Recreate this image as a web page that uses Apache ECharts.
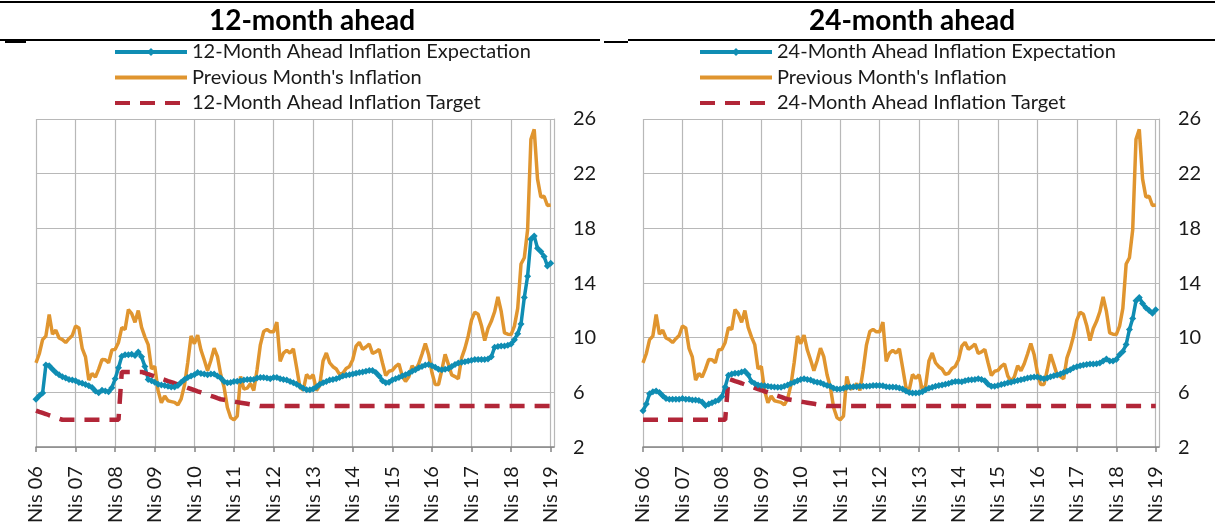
<!DOCTYPE html>
<html>
<head>
<meta charset="utf-8">
<title>Inflation expectations</title>
<script src="https://cdn.jsdelivr.net/npm/echarts@6/dist/echarts.min.js"></script>
<style>
html, body { margin: 0; padding: 0; background: #fff; }
#chart { width: 1215px; height: 526px; }
</style>
</head>
<body>
<div id="chart"></div>
<script>
// ay isimleri (kategori etiketleri)
var monthNames = ['Oca', 'Şub', 'Mar', 'Nis', 'May', 'Haz', 'Tem', 'Ağu', 'Eyl', 'Eki', 'Kas', 'Ara'];

// Nis 06 .. May 19 (last month left empty, like the source axis)
var categories = [];
for (var i = 0; i < 158; i++) {
    var m = (3 + i) % 12;
    var y = 6 + Math.floor((3 + i) / 12);
    categories.push(monthNames[m] + ' ' + (y < 10 ? '0' + y : y));
}

// previous month's annual CPI inflation (Nis 06 .. Nis 19)
var prevInflation = [
    8.16, 8.83, 9.86, 10.12, 11.69, 10.26, 10.55, 9.98, 9.86, 9.65,
    9.93, 10.16, 10.86, 10.72, 9.23, 8.60, 6.90, 7.39, 7.12, 7.70, 8.40, 8.39,
    8.17, 9.10, 9.15, 9.66, 10.74, 10.61, 12.06, 11.77, 11.13, 11.99, 10.76, 10.06,
    9.50, 7.73, 7.89, 6.13, 5.24, 5.73, 5.39, 5.33, 5.27, 5.08, 5.53, 6.53,
    8.19, 10.13, 9.56, 10.19, 9.10, 8.37, 7.58, 8.33, 9.24, 8.62, 7.29, 6.40,
    4.90, 4.16, 3.99, 4.26, 7.17, 6.24, 6.31, 6.65, 6.15, 7.66, 9.48, 10.45,
    10.61, 10.43, 10.43, 11.14, 8.28, 8.87, 9.07, 8.88, 9.19, 7.80, 6.37, 6.16,
    7.31, 7.03, 7.29, 6.13, 6.51, 8.30, 8.88, 8.17, 7.88, 7.71, 7.32, 7.40,
    7.75, 7.89, 8.39, 9.38, 9.66, 9.16, 9.32, 9.54, 8.86, 8.96, 9.15, 8.17,
    7.24, 7.55, 7.61, 7.91, 8.09, 7.20, 6.81, 7.14, 7.95, 7.58, 8.10, 8.81,
    9.58, 8.78, 7.46, 6.57, 6.58, 7.64, 8.79, 8.05, 7.28, 7.16, 7.00, 8.53,
    9.22, 10.13, 11.29, 11.87, 11.72, 10.90, 9.79, 10.68, 11.20, 11.90, 12.98, 11.92,
    10.35, 10.26, 10.23, 10.85, 12.15, 15.39, 15.85, 17.90, 24.52, 25.24, 21.62, 20.30,
    20.35, 19.67, 19.71
];

// 12-month ahead expectation
var exp12 = [
    5.5, 5.75, 5.95, 8.0, 7.95, 7.7, 7.45, 7.3, 7.15, 7.05, 6.95, 6.9,
    6.85, 6.72, 6.67, 6.57, 6.48, 6.36, 6.1, 5.98, 6.15, 6.1, 6.05, 6.35,
    7.0, 7.8, 8.65, 8.75, 8.75, 8.8, 8.7, 8.95, 8.6, 7.9, 6.95, 6.85,
    6.75, 6.6, 6.55, 6.5, 6.45, 6.4, 6.4, 6.5, 6.75, 6.95, 7.1, 7.2,
    7.3, 7.45, 7.38, 7.35, 7.3, 7.35, 7.35, 7.2, 7.05, 6.8, 6.7, 6.72,
    6.8, 6.82, 6.85, 6.9, 6.95, 6.95, 6.95, 7.05, 7.1, 7.1, 7.05, 7.0,
    7.1, 7.1, 7.0, 6.95, 6.9, 6.8, 6.7, 6.6, 6.45, 6.3, 6.2, 6.2,
    6.25, 6.4, 6.6, 6.7, 6.8, 6.9, 6.95, 7.0, 7.1, 7.2, 7.25, 7.3,
    7.35, 7.4, 7.45, 7.5, 7.55, 7.6, 7.6, 7.45, 7.2, 6.85, 6.7, 6.75,
    6.9, 7.0, 7.1, 7.2, 7.3, 7.4, 7.55, 7.65, 7.8, 7.9, 8.0, 8.05,
    7.95, 7.85, 7.7, 7.65, 7.7, 7.75, 7.9, 8.05, 8.15, 8.2, 8.25, 8.3,
    8.35, 8.4, 8.4, 8.4, 8.4, 8.45, 8.6, 9.3, 9.35, 9.4, 9.4, 9.45,
    9.55, 9.85, 10.3, 11.0, 12.95, 14.5, 17.2, 17.45, 16.55, 16.3, 15.95, 15.25,
    15.45
];

// 24-month ahead expectation
var exp24 = [
    4.65, 5.15, 5.9, 6.05, 6.1, 6.0, 5.75, 5.55, 5.5, 5.5, 5.5, 5.5,
    5.55, 5.5, 5.5, 5.45, 5.45, 5.4, 5.3, 5.05, 5.15, 5.25, 5.35, 5.45,
    5.7, 6.4, 7.25, 7.35, 7.4, 7.4, 7.5, 7.55, 7.3, 6.8, 6.65, 6.55,
    6.5, 6.48, 6.45, 6.42, 6.4, 6.38, 6.38, 6.45, 6.55, 6.65, 6.75, 6.85,
    6.95, 7.0, 6.95, 6.9, 6.8, 6.75, 6.7, 6.6, 6.5, 6.45, 6.3, 6.25,
    6.25, 6.3, 6.38, 6.4, 6.42, 6.42, 6.45, 6.45, 6.45, 6.47, 6.5, 6.5,
    6.5, 6.48, 6.42, 6.4, 6.4, 6.38, 6.32, 6.25, 6.1, 6.0, 5.95, 5.95,
    5.97, 6.05, 6.2, 6.3, 6.38, 6.45, 6.5, 6.55, 6.6, 6.65, 6.75, 6.8,
    6.8, 6.78, 6.85, 6.9, 6.92, 6.95, 7.0, 6.95, 6.85, 6.6, 6.45, 6.45,
    6.5, 6.58, 6.63, 6.7, 6.75, 6.82, 6.88, 6.92, 6.98, 7.05, 7.1, 7.12,
    7.12, 7.05, 7.0, 7.05, 7.15, 7.22, 7.28, 7.35, 7.45, 7.55, 7.65, 7.8,
    7.88, 7.95, 8.0, 8.05, 8.08, 8.08, 8.1, 8.15, 8.3, 8.45, 8.3, 8.3,
    8.4, 8.75, 9.0, 9.5, 10.6, 11.4, 12.7, 12.95, 12.5, 12.2, 12.0, 11.8,
    12.05
];

// 12-month ahead target
var target12 = [
    4.67, 4.58, 4.5, 4.42, 4.33, 4.25, 4.17, 4.08, 4.0,
    4, 4, 4, 4, 4, 4, 4, 4, 4, 4, 4, 4,
    4, 4, 4, 4, 4, 7.5, 7.5, 7.5, 7.5, 7.5, 7.5, 7.5,
    7.42, 7.33, 7.25, 7.17, 7.08, 7.0, 6.92, 6.83, 6.75, 6.67, 6.58, 6.5,
    6.42, 6.33, 6.25, 6.17, 6.08, 6.0, 5.92, 5.83, 5.75, 5.67, 5.58, 5.5,
    5.46, 5.42, 5.38, 5.33, 5.29, 5.25, 5.21, 5.17, 5.13, 5.08, 5.04, 5.0,
    5, 5, 5, 5, 5, 5, 5, 5, 5, 5, 5, 5,
    5, 5, 5, 5, 5, 5, 5, 5, 5, 5, 5, 5,
    5, 5, 5, 5, 5, 5, 5, 5, 5, 5, 5, 5,
    5, 5, 5, 5, 5, 5, 5, 5, 5, 5, 5, 5,
    5, 5, 5, 5, 5, 5, 5, 5, 5, 5, 5, 5,
    5, 5, 5, 5, 5, 5, 5, 5, 5, 5, 5, 5,
    5, 5, 5, 5, 5, 5, 5, 5, 5, 5, 5, 5,
    5, 5, 5, 5
];

// 24-month ahead target
var target24 = [
    4, 4, 4, 4, 4, 4, 4, 4, 4,
    4, 4, 4, 4, 4, 4, 4, 4, 4, 4, 4, 4,
    4, 4, 4, 4, 4, 7.0, 6.92, 6.83, 6.75, 6.67, 6.58, 6.5,
    6.42, 6.33, 6.25, 6.17, 6.08, 6.0, 5.92, 5.83, 5.75, 5.67, 5.58, 5.5,
    5.46, 5.42, 5.38, 5.33, 5.29, 5.25, 5.21, 5.17, 5.13, 5.08, 5.04, 5.0,
    5, 5, 5, 5, 5, 5, 5, 5, 5, 5, 5, 5,
    5, 5, 5, 5, 5, 5, 5, 5, 5, 5, 5, 5,
    5, 5, 5, 5, 5, 5, 5, 5, 5, 5, 5, 5,
    5, 5, 5, 5, 5, 5, 5, 5, 5, 5, 5, 5,
    5, 5, 5, 5, 5, 5, 5, 5, 5, 5, 5, 5,
    5, 5, 5, 5, 5, 5, 5, 5, 5, 5, 5, 5,
    5, 5, 5, 5, 5, 5, 5, 5, 5, 5, 5, 5,
    5, 5, 5, 5, 5, 5, 5, 5, 5, 5, 5, 5,
    5, 5, 5, 5
];

var yTicks = { min: 2, max: 26, interval: 4 };

var BLUE = '#0f8db3';
var ORANGE = '#e0952f';
var RED = '#b22638';
var GRID = '#b8b8b8';
var FONT = 'Lato';
var TEXT = '#1a1a1a';

var myChart = echarts.init(document.getElementById('chart'));
init();

function init() {
    var option = {
        animation: false,
        backgroundColor: '#fff',
        textStyle: { fontFamily: FONT },
        grid: [
            { left: 36, top: 119, width: 518, height: 333 },
            { left: 643, top: 119, width: 516, height: 333 }
        ],
        legend: [buildLegend(113, '12'), buildLegend(698, '24')],
        xAxis: [buildXAxis(0), buildXAxis(1)],
        yAxis: [buildYAxis(0), buildYAxis(1)],
        series: buildSeries(0, '12', exp12, target12).concat(buildSeries(1, '24', exp24, target24)),
        graphic: buildHeader()
    };
    myChart.setOption(option);
}

// panel titles and the black rules
function buildHeader() {
    var rule = function (x1, y1, x2, y2, w) {
        return { type: 'line', shape: { x1: x1, y1: y1, x2: x2, y2: y2 }, style: { stroke: '#000', lineWidth: w } };
    };
    return [
        rule(0, 2, 1215, 2, 2),
        rule(0, 40, 600, 40, 2),
        rule(5, 42, 26, 42, 2),
        rule(628, 40, 1215, 40, 2),
        rule(604, 42, 628, 42, 2),
        { type: 'text', x: 312, y: 7, style: { text: '12-month ahead', font: 'bold 28px ' + FONT, fill: '#000', align: 'center', verticalAlign: 'top' } },
        { type: 'text', x: 912, y: 7, style: { text: '24-month ahead', font: 'bold 28px ' + FONT, fill: '#000', align: 'center', verticalAlign: 'top' } }
    ];
}

function buildLegend(left, h) {
    return {
        orient: 'vertical',
        left: left,
        top: 41,
        itemWidth: 72,
        itemHeight: 10,
        itemGap: 3.5,
        padding: 0,
        lineStyle: { width: 4 },
        textStyle: { fontSize: 20, color: TEXT, fontFamily: FONT, lineHeight: 22 },
        data: [
            { name: h + '-Month Ahead Inflation Expectation' },
            { name: "Previous Month's Inflation", itemStyle: { opacity: 0 } },
            { name: h + '-Month Ahead Inflation Target', itemStyle: { opacity: 0 } }
        ]
    };
}

function buildXAxis(idx) {
    return {
        gridIndex: idx,
        type: 'category',
        data: categories,
        boundaryGap: false,
        axisLine: { lineStyle: { color: '#858585', width: 1.5 } },
        axisTick: { interval: 11, length: 5, lineStyle: { color: '#858585', width: 1.5 } },
        axisLabel: { interval: 11, rotate: 90, margin: 19, fontSize: 20, color: TEXT, fontFamily: FONT },
        splitLine: { show: true, interval: 11, lineStyle: { color: GRID, width: 1.2 } }
    };
}

function buildYAxis(idx) {
    return {
        gridIndex: idx,
        type: 'value',
        position: 'right',
        min: yTicks.min,
        max: yTicks.max,
        interval: yTicks.interval,
        axisLine: { show: true, lineStyle: { color: GRID, width: 1.2 } },
        axisTick: { show: false },
        axisLabel: { margin: 19, fontSize: 20, color: TEXT, fontFamily: FONT },
        splitLine: { show: true, lineStyle: { color: GRID, width: 1.2 } }
    };
}

function buildSeries(idx, h, exp, target) {
    return [
        {
            name: h + '-Month Ahead Inflation Expectation',
            type: 'line',
            xAxisIndex: idx,
            yAxisIndex: idx,
            data: exp,
            symbol: 'diamond',
            symbolSize: 7,
            showAllSymbol: true,
            lineStyle: { width: 3.5, color: BLUE },
            itemStyle: { color: BLUE }
        },
        {
            name: "Previous Month's Inflation",
            type: 'line',
            xAxisIndex: idx,
            yAxisIndex: idx,
            data: prevInflation,
            symbol: 'none',
            lineStyle: { width: 3.5, color: ORANGE },
            itemStyle: { color: ORANGE }
        },
        {
            name: h + '-Month Ahead Inflation Target',
            type: 'line',
            xAxisIndex: idx,
            yAxisIndex: idx,
            data: target,
            symbol: 'none',
            lineStyle: { width: 4.5, type: [15, 10], color: RED },
            itemStyle: { color: RED }
        }
    ];
}
</script>
</body>
</html>
